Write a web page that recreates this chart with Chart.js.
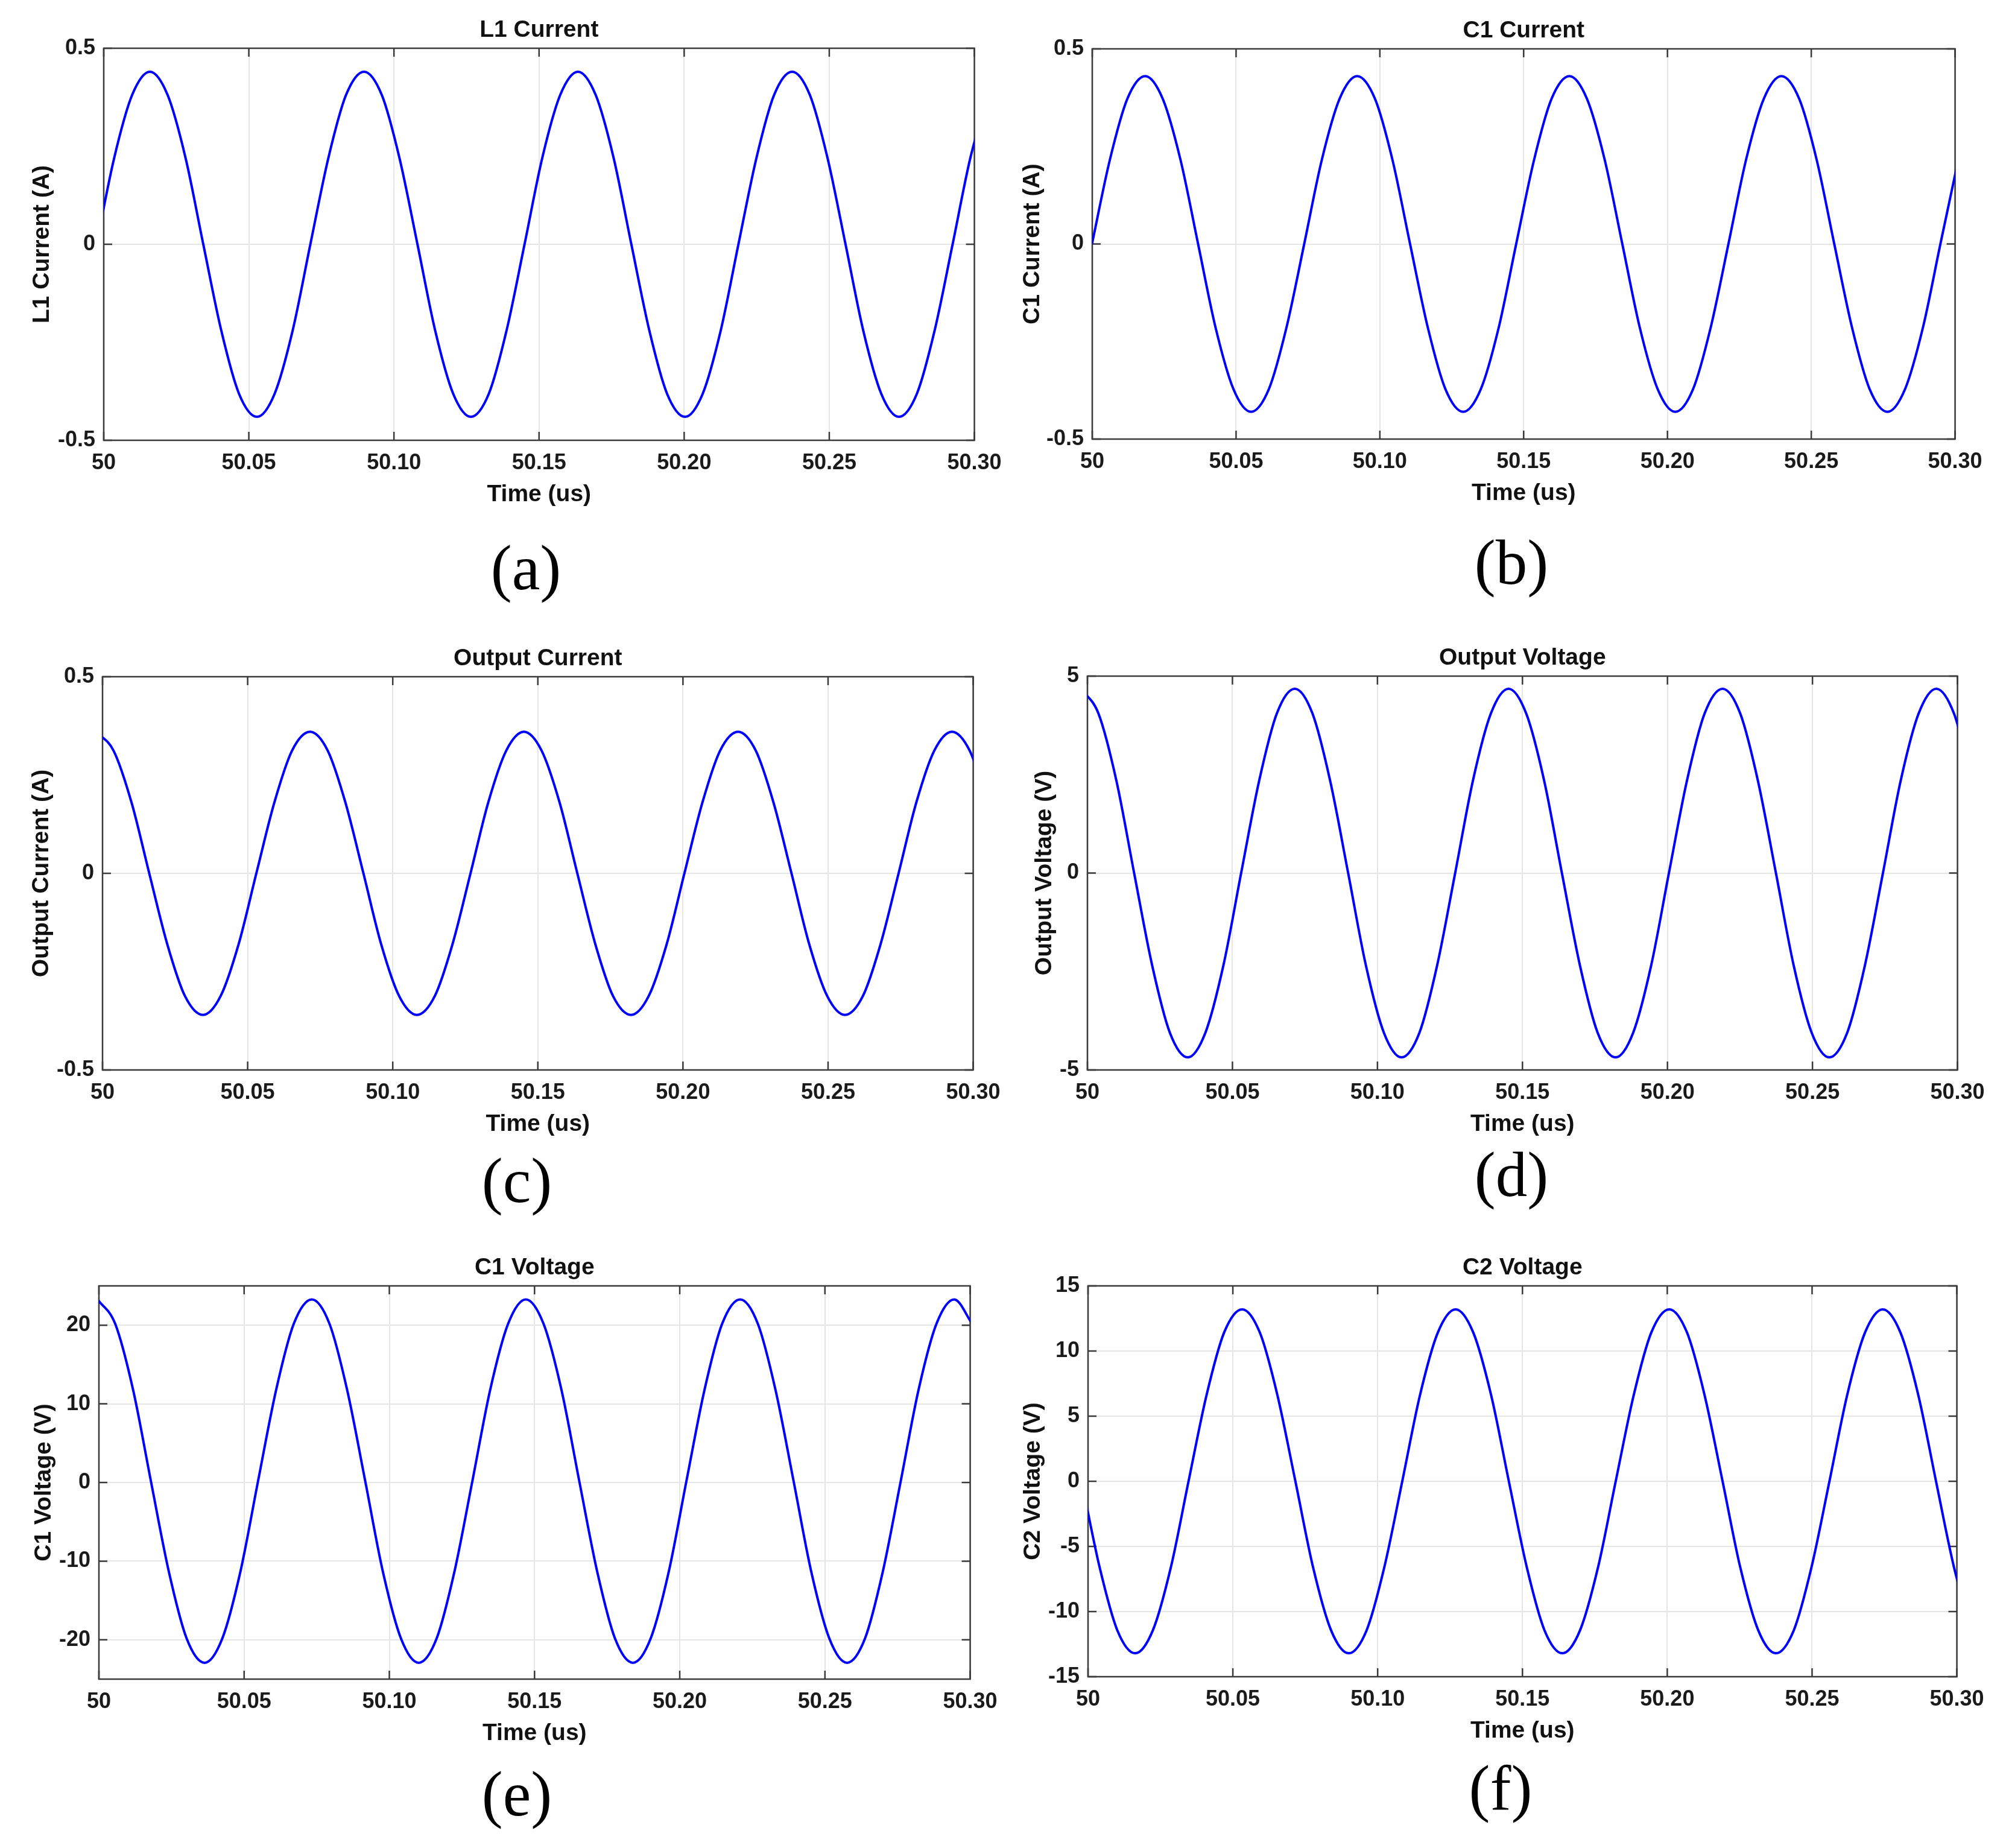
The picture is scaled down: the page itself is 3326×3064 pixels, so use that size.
<!DOCTYPE html>
<html>
<head>
<meta charset="utf-8">
<title>Waveforms</title>
<script src="https://cdn.jsdelivr.net/npm/chart.js@4.4.1/dist/chart.umd.min.js"></script>
<style>
  html, body { margin: 0; padding: 0; background: #fff; }
  #page { position: relative; width: 3326px; height: 3064px; background: #fff; overflow: hidden; }
  #page canvas { position: absolute; }
  .tag {
    position: absolute;
    font-family: "Liberation Serif", "Times New Roman", serif;
    font-size: 105px;
    line-height: 1;
    color: #000;
    transform: translate(-50%, -50%);
    white-space: nowrap;
  }
</style>
</head>
<body>
<div id="page"></div>
<script>
// X 轴刻度 (us)
const xTickValues = [50, 50.05, 50.1, 50.15, 50.2, 50.25, 50.3];
const xTickLabels = ['50', '50.05', '50.10', '50.15', '50.20', '50.25', '50.30'];

// (a) L1 Current (A) —— 读取的时间点 (us) 和数值
const timeL1 = [
  49.9975, 50.0036, 50.0098, 50.0159, 50.0220, 50.0282, 50.0343, 50.0405, 50.0466, 50.0528,
  50.0589, 50.0651, 50.0712, 50.0774, 50.0835, 50.0897, 50.0958, 50.1019, 50.1081, 50.1142,
  50.1204, 50.1265, 50.1327, 50.1388, 50.1450, 50.1511, 50.1573, 50.1634, 50.1695, 50.1757,
  50.1818, 50.1880, 50.1941, 50.2003, 50.2064, 50.2126, 50.2187, 50.2249, 50.2310, 50.2372,
  50.2433, 50.2494, 50.2556, 50.2617, 50.2679, 50.2740, 50.2802, 50.2863, 50.2925, 50.2986,
  50.3048
];
const l1Current = [
  0, 0.22, 0.381, 0.44, 0.381, 0.22, 0, -0.22, -0.381, -0.44, -0.381, -0.22,
  0, 0.22, 0.381, 0.44, 0.381, 0.22, 0, -0.22, -0.381, -0.44, -0.381, -0.22,
  0, 0.22, 0.381, 0.44, 0.381, 0.22, 0, -0.22, -0.381, -0.44, -0.381, -0.22,
  0, 0.22, 0.381, 0.44, 0.381, 0.22, 0, -0.22, -0.381, -0.44, -0.381, -0.22,
  0, 0.22, 0.381
];

// (b) C1 Current (A)
const timeC1 = [
  49.9999, 50.0061, 50.0122, 50.0184, 50.0245, 50.0307, 50.0368, 50.0429, 50.0491, 50.0552,
  50.0614, 50.0675, 50.0737, 50.0798, 50.0860, 50.0921, 50.0983, 50.1044, 50.1105, 50.1167,
  50.1228, 50.1290, 50.1351, 50.1413, 50.1474, 50.1536, 50.1597, 50.1659, 50.1720, 50.1782,
  50.1843, 50.1904, 50.1966, 50.2027, 50.2089, 50.2150, 50.2212, 50.2273, 50.2335, 50.2396,
  50.2458, 50.2519, 50.2580, 50.2642, 50.2703, 50.2765, 50.2826, 50.2888, 50.2949, 50.3011
];
const c1Current = [
  0, 0.215, 0.372, 0.43, 0.372, 0.215, 0, -0.215, -0.372, -0.43, -0.372, -0.215,
  0, 0.215, 0.372, 0.43, 0.372, 0.215, 0, -0.215, -0.372, -0.43, -0.372, -0.215,
  0, 0.215, 0.372, 0.43, 0.372, 0.215, 0, -0.215, -0.372, -0.43, -0.372, -0.215,
  0, 0.215, 0.372, 0.43, 0.372, 0.215, 0, -0.215, -0.372, -0.43, -0.372, -0.215,
  0, 0.215
];

// (c)(d) 输出电流 / 输出电压 共用时间点
const timeOut = [
  49.9977, 50.0038, 50.0100, 50.0161, 50.0223, 50.0284, 50.0346, 50.0407, 50.0469, 50.0530,
  50.0592, 50.0653, 50.0715, 50.0776, 50.0837, 50.0899, 50.0960, 50.1022, 50.1083, 50.1145,
  50.1206, 50.1268, 50.1329, 50.1391, 50.1452, 50.1513, 50.1575, 50.1636, 50.1698, 50.1759,
  50.1821, 50.1882, 50.1944, 50.2005, 50.2067, 50.2128, 50.2190, 50.2251, 50.2312, 50.2374,
  50.2435, 50.2497, 50.2558, 50.2620, 50.2681, 50.2743, 50.2804, 50.2866, 50.2927, 50.2988,
  50.3050
];
const outputCurrent = [
  0.36, 0.312, 0.18, 0, -0.18, -0.312, -0.36, -0.312, -0.18, 0, 0.18, 0.312,
  0.36, 0.312, 0.18, 0, -0.18, -0.312, -0.36, -0.312, -0.18, 0, 0.18, 0.312,
  0.36, 0.312, 0.18, 0, -0.18, -0.312, -0.36, -0.312, -0.18, 0, 0.18, 0.312,
  0.36, 0.312, 0.18, 0, -0.18, -0.312, -0.36, -0.312, -0.18, 0, 0.18, 0.312,
  0.36, 0.312, 0.18
];
const outputVoltage = [
  4.68, 4.05, 2.34, 0, -2.34, -4.05, -4.68, -4.05, -2.34, 0, 2.34, 4.05,
  4.68, 4.05, 2.34, 0, -2.34, -4.05, -4.68, -4.05, -2.34, 0, 2.34, 4.05,
  4.68, 4.05, 2.34, 0, -2.34, -4.05, -4.68, -4.05, -2.34, 0, 2.34, 4.05,
  4.68, 4.05, 2.34, 0, -2.34, -4.05, -4.68, -4.05, -2.34, 0, 2.34, 4.05,
  4.68, 4.05, 2.34
];

// (e) C1 Voltage (V)
const timeC1V = [
  49.9995, 50.0056, 50.0118, 50.0179, 50.0241, 50.0302, 50.0364, 50.0425, 50.0487, 50.0548,
  50.0610, 50.0671, 50.0733, 50.0794, 50.0855, 50.0917, 50.0978, 50.1040, 50.1101, 50.1163,
  50.1224, 50.1286, 50.1347, 50.1409, 50.1470, 50.1531, 50.1593, 50.1654, 50.1716, 50.1777,
  50.1839, 50.1900, 50.1962, 50.2023, 50.2085, 50.2146, 50.2208, 50.2269, 50.2330, 50.2392,
  50.2453, 50.2515, 50.2576, 50.2638, 50.2699, 50.2761, 50.2822, 50.2884, 50.2945, 50.3007
];
const c1Voltage = [
  23.28, 20.18, 11.73, 0.18, -11.37, -19.82, -22.92, -19.82, -11.37, 0.18, 11.73, 20.18,
  23.28, 20.18, 11.73, 0.18, -11.37, -19.82, -22.92, -19.82, -11.37, 0.18, 11.73, 20.18,
  23.28, 20.18, 11.73, 0.18, -11.37, -19.82, -22.92, -19.82, -11.37, 0.18, 11.73, 20.18,
  23.28, 20.18, 11.73, 0.18, -11.37, -19.82, -22.92, -19.82, -11.37, 0.18, 11.73, 20.18,
  23.28, 20.18
];

// (f) C2 Voltage (V)
const timeC2V = [
  49.9978, 50.0040, 50.0101, 50.0163, 50.0224, 50.0286, 50.0347, 50.0409, 50.0470, 50.0532,
  50.0593, 50.0654, 50.0716, 50.0777, 50.0839, 50.0900, 50.0962, 50.1023, 50.1085, 50.1146,
  50.1208, 50.1269, 50.1330, 50.1392, 50.1453, 50.1515, 50.1576, 50.1638, 50.1699, 50.1761,
  50.1822, 50.1884, 50.1945, 50.2007, 50.2068, 50.2129, 50.2191, 50.2252, 50.2314, 50.2375,
  50.2437, 50.2498, 50.2560, 50.2621, 50.2683, 50.2744, 50.2805, 50.2867, 50.2928, 50.2990,
  50.3051
];
const c2Voltage = [
  0, -6.6, -11.43, -13.2, -11.43, -6.6, 0, 6.6, 11.43, 13.2, 11.43, 6.6,
  0, -6.6, -11.43, -13.2, -11.43, -6.6, 0, 6.6, 11.43, 13.2, 11.43, 6.6,
  0, -6.6, -11.43, -13.2, -11.43, -6.6, 0, 6.6, 11.43, 13.2, 11.43, 6.6,
  0, -6.6, -11.43, -13.2, -11.43, -6.6, 0, 6.6, 11.43, 13.2, 11.43, 6.6,
  0, -6.6, -11.43
];

// Y 轴刻度
const yTicksCurrent = [-0.5, 0, 0.5];
const yTicksOutV = [-5, 0, 5];
const yTicksC1V = [-20, -10, 0, 10, 20];
const yTicksC2V = [-15, -10, -5, 0, 5, 10, 15];

const FONT = '"Liberation Sans", Arial, Helvetica, sans-serif';

// 每个子图: 标题、数据、坐标范围，以及绘图区位置 [左, 右, 上, 下]
const panels = [
  { tag: '(a)', title: 'L1 Current', yLabel: 'L1 Current (A)', time: timeL1, data: l1Current,
    yMin: -0.5, yMax: 0.5, yTicks: yTicksCurrent, area: [172, 1617, 80, 730], yGap: 102, tagPos: [872, 941] },
  { tag: '(b)', title: 'C1 Current', yLabel: 'C1 Current (A)', time: timeC1, data: c1Current,
    yMin: -0.5, yMax: 0.5, yTicks: yTicksCurrent, area: [1811, 3243, 81, 728], yGap: 99, tagPos: [2506, 932] },
  { tag: '(c)', title: 'Output Current', yLabel: 'Output Current (A)', time: timeOut, data: outputCurrent,
    yMin: -0.5, yMax: 0.5, yTicks: yTicksCurrent, area: [170, 1615, 1122, 1774], yGap: 101, tagPos: [857, 1957] },
  { tag: '(d)', title: 'Output Voltage', yLabel: 'Output Voltage (V)', time: timeOut, data: outputVoltage,
    yMin: -5, yMax: 5, yTicks: yTicksOutV, area: [1803, 3247, 1121, 1774], yGap: 71, tagPos: [2506, 1947] },
  { tag: '(e)', title: 'C1 Voltage', yLabel: 'C1 Voltage (V)', time: timeC1V, data: c1Voltage,
    yMin: -25, yMax: 25, yTicks: yTicksC1V, area: [164, 1610, 2132, 2784], yGap: 91, tagPos: [857, 2974] },
  { tag: '(f)', title: 'C2 Voltage', yLabel: 'C2 Voltage (V)', time: timeC2V, data: c2Voltage,
    yMin: -15, yMax: 15, yTicks: yTicksC2V, area: [1804, 3246, 2132, 2780], yGap: 91, tagPos: [2488, 2964] }
];

// 坐标框和向内的刻度线 (MATLAB 风格)
const axesBox = {
  id: 'axesBox',
  beforeDatasetsDraw(chart) {
    const { ctx, chartArea: a, scales: { x, y } } = chart;
    ctx.save();
    ctx.strokeStyle = '#3a3a3a';
    ctx.lineWidth = 2.5;
    ctx.beginPath();
    x.ticks.forEach(t => {
      const px = x.getPixelForValue(t.value);
      ctx.moveTo(px, a.bottom); ctx.lineTo(px, a.bottom - 14);
      ctx.moveTo(px, a.top); ctx.lineTo(px, a.top + 14);
    });
    y.ticks.forEach(t => {
      const py = y.getPixelForValue(t.value);
      ctx.moveTo(a.left, py); ctx.lineTo(a.left + 14, py);
      ctx.moveTo(a.right, py); ctx.lineTo(a.right - 14, py);
    });
    ctx.stroke();
    ctx.strokeRect(a.left, a.top, a.right - a.left, a.bottom - a.top);
    ctx.restore();
  }
};

const page = document.getElementById('page');
const LEFT = 150, TOP = 80, BOTTOM = 130, RIGHT = 60;

panels.forEach(p => {
  const [l, r, t, b] = p.area;
  const cv = document.createElement('canvas');
  cv.width = (r - l) + LEFT + RIGHT;
  cv.height = (b - t) + TOP + BOTTOM;
  cv.style.left = (l - LEFT) + 'px';
  cv.style.top = (t - TOP) + 'px';
  cv.style.width = cv.width + 'px';
  cv.style.height = cv.height + 'px';
  page.appendChild(cv);

  const tag = document.createElement('div');
  tag.className = 'tag';
  tag.textContent = p.tag;
  tag.style.left = p.tagPos[0] + 'px';
  tag.style.top = p.tagPos[1] + 'px';
  page.appendChild(tag);

  new Chart(cv.getContext('2d'), {
    type: 'line',
    data: {
      datasets: [{
        data: p.data.map((v, i) => ({ x: p.time[i], y: v })),
        borderColor: '#0000ff',
        borderWidth: 4,
        pointRadius: 0,
        cubicInterpolationMode: 'monotone',
        fill: false
      }]
    },
    options: {
      responsive: false,
      animation: false,
      devicePixelRatio: 1,
      layout: { padding: { left: 0, right: RIGHT, top: 0, bottom: 0 } },
      plugins: {
        legend: { display: false },
        tooltip: { enabled: false },
        title: {
          display: true,
          fullSize: false,
          text: p.title,
          color: '#111',
          font: { family: FONT, size: 39, weight: 'bold' },
          padding: { top: 26.6, bottom: 6.6 }
        }
      },
      scales: {
        x: {
          type: 'linear',
          min: 50,
          max: 50.3,
          afterBuildTicks: s => { s.ticks = xTickValues.map(v => ({ value: v })); },
          afterFit: s => { s.height = BOTTOM; },
          ticks: {
            callback: (v, i) => xTickLabels[i],
            color: '#1a1a1a',
            font: { family: FONT, size: 36, weight: 'bold' },
            padding: 16.4,
            maxRotation: 0,
            autoSkip: false
          },
          grid: { color: '#e6e6e6', lineWidth: 2, drawTicks: false },
          border: { display: false },
          title: {
            display: true,
            text: 'Time (us)',
            color: '#111',
            font: { family: FONT, size: 39, weight: 'bold' },
            padding: { top: 0, bottom: 16.6 }
          }
        },
        y: {
          min: p.yMin,
          max: p.yMax,
          afterBuildTicks: s => { s.ticks = p.yTicks.map(v => ({ value: v })); },
          afterFit: s => { s.width = LEFT; },
          ticks: {
            callback: v => String(v),
            color: '#1a1a1a',
            font: { family: FONT, size: 36, weight: 'bold' },
            padding: 14,
            autoSkip: false
          },
          grid: { color: '#e6e6e6', lineWidth: 2, drawTicks: false },
          border: { display: false },
          title: {
            display: true,
            text: p.yLabel,
            color: '#111',
            font: { family: FONT, size: 39, weight: 'bold' },
            padding: { top: LEFT - p.yGap - 23.4, bottom: 0 }
          }
        }
      }
    },
    plugins: [axesBox]
  });
});
</script>
</body>
</html>
